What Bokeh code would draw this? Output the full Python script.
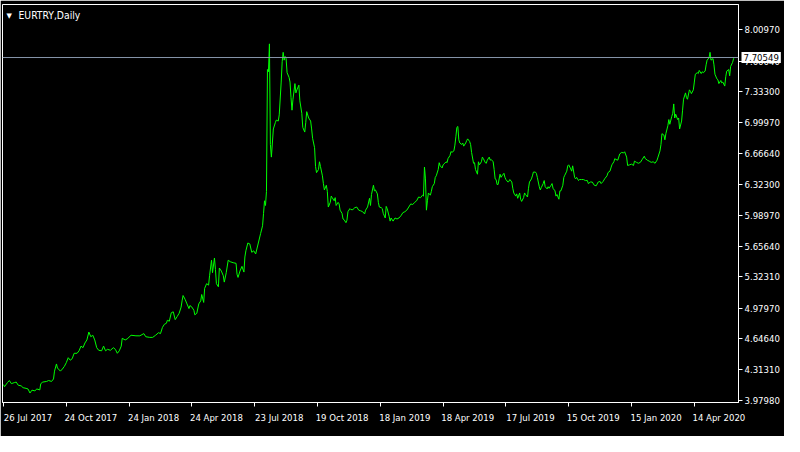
from bokeh.plotting import figure
from bokeh.models import Range1d, FixedTicker, PrintfTickFormatter, Span, Label
from bokeh.embed import file_html
from bokeh.resources import INLINE

chart_title = "EURTRY,Daily"

bar_index = [
    0, 1, 4, 6, 8, 11, 13, 15, 18, 20, 23, 25, 27, 29, 32, 34, 37, 38, 40, 44, 46, 49, 51, 52, 54, 55, 58, 60, 62, 64,
    66, 68, 70, 72, 75, 77, 79, 81, 83, 85, 87, 89, 91, 93, 95, 97, 100, 102, 104, 106, 109, 112, 114, 116, 118, 120, 121, 124, 126,
    130, 135, 139, 143, 145, 149, 152, 155, 158, 160, 162, 164, 166, 167, 169, 171, 173, 175, 177, 179, 181, 182, 183, 185, 187,
    189, 190, 192, 194, 195, 197, 199, 201, 202, 204, 205, 207, 209, 210, 212, 213, 215, 216, 217, 219, 220, 222, 224, 225, 227,
    229, 231, 234, 237, 238, 239, 241, 243, 245, 246, 247, 249, 251, 253, 255, 257,
    262, 264, 265, 266, 267, 268, 269, 270, 271, 272, 273, 275, 277, 278, 280, 281, 283, 284, 285, 286, 287, 288, 289, 291, 292,
    293, 294, 295, 297, 298, 299, 301, 302, 304, 305, 307, 308, 309, 311, 313, 314, 315, 317, 318, 319, 321, 322, 323, 325, 326,
    327, 329, 330, 331, 333, 334, 335, 337, 338, 339, 341, 342, 343, 345, 346, 347, 349, 350, 351, 353, 354, 356, 358, 360, 362,
    364, 366, 368, 369, 371, 373, 374, 375,
    377, 378, 379, 381, 382, 383, 385, 386, 387, 389, 390, 391, 393, 394, 395, 397, 399, 401, 403, 405, 407, 409, 411, 413, 415,
    417, 419, 421, 423, 425, 427, 428, 429, 430, 431, 432, 433, 435, 436, 437, 439, 440, 441, 443, 444, 445, 447, 448, 449, 451,
    452, 453, 455, 456, 457, 459, 460, 461, 462, 463, 464, 465, 467, 468, 469, 471, 472, 473, 475, 476, 477, 479, 480, 481, 483,
    484, 485, 487, 488, 489, 491, 492, 493, 495, 496, 497, 499, 500, 501, 502,
    503, 504, 506, 507, 508, 510, 511, 512, 514, 515, 516, 518, 519, 520, 522, 523, 524, 526, 527, 528, 530, 531, 532, 534, 535,
    536, 538, 539, 540, 542, 543, 544, 546, 547, 548, 550, 551, 552, 554, 555, 556, 558, 559, 560, 562, 563, 564, 566, 567, 568,
    570, 571, 572, 574, 575, 576, 578, 579, 580, 582, 583, 584, 586, 587, 589, 591, 593, 595, 596, 598, 600, 602, 604, 606, 608,
    609, 611, 613, 615, 616, 618, 619, 620, 622, 623, 624, 626,
    628, 630, 632, 633, 635, 636, 638, 640, 642, 643, 645, 647, 649, 651, 653, 654, 656, 658, 660, 662, 664, 666, 667, 669, 670,
    671, 673, 674, 675, 677, 678, 679, 681, 682, 683, 684, 685, 687, 688, 689, 691, 692, 693, 695, 696, 697, 699, 700, 701, 703,
    704, 705, 707, 708, 709, 711, 712, 713, 715, 716, 717, 719, 720, 721, 723, 724, 725, 727, 728, 729, 731, 732, 733, 735, 736,
    737, 739, 740, 741, 743, 744, 745,
]

close = [
    4.150, 4.126, 4.171, 4.194, 4.160, 4.171, 4.177, 4.143, 4.136, 4.116, 4.109, 4.102, 4.058, 4.089, 4.082, 4.102, 4.092, 4.160, 4.177, 4.184, 4.194, 4.184, 4.211, 4.296, 4.374, 4.330, 4.296, 4.319, 4.347, 4.388,
    4.442, 4.415, 4.431, 4.490, 4.490, 4.517, 4.568, 4.551, 4.602, 4.635, 4.721, 4.670, 4.686, 4.635, 4.551, 4.523, 4.517, 4.568, 4.517, 4.533, 4.523, 4.551, 4.533, 4.490, 4.517, 4.568, 4.653, 4.635, 4.646,
    4.686, 4.680, 4.680, 4.704, 4.670, 4.663, 4.663, 4.686, 4.714, 4.704, 4.772, 4.806, 4.816, 4.849, 4.839, 4.931, 4.941, 4.856, 4.890, 4.925, 4.992, 5.060, 5.118, 5.078, 5.027,
    4.976, 5.009, 4.992, 4.958, 4.908, 4.925, 5.027, 5.060, 5.129, 5.043, 5.196, 5.247, 5.231, 5.333, 5.502, 5.366, 5.526, 5.400, 5.247, 5.213, 5.417, 5.384, 5.333, 5.264, 5.366,
    5.502, 5.486, 5.475, 5.468, 5.349, 5.315, 5.384, 5.435, 5.373, 5.537, 5.604, 5.689, 5.679, 5.588, 5.604, 5.570,
    5.791, 5.876, 6.011, 6.148, 6.097, 6.250, 7.575, 7.551, 7.854, 6.760, 6.623, 6.929, 6.997, 7.025, 7.015, 7.082, 7.439, 7.660, 7.762, 7.677, 7.718, 7.694, 7.541, 7.490, 7.439,
    7.269, 7.133, 7.252, 7.422, 7.321, 7.354, 7.405, 7.235, 7.099, 6.946, 6.895, 6.997, 7.117, 7.048, 7.015, 6.929, 6.827, 6.725, 6.521, 6.454, 6.488, 6.572, 6.521, 6.419, 6.335,
    6.266, 6.317, 6.250, 6.080, 6.131, 6.199, 6.182, 6.148, 6.182, 6.097, 6.131, 6.114, 6.046, 6.011, 5.950, 5.944, 5.910, 5.937, 6.029, 6.063, 6.052, 6.052, 6.073, 6.080, 6.046,
    6.039, 6.029, 6.005, 6.046, 6.080, 6.175, 6.097, 6.216,
    6.317, 6.256, 6.266, 6.223, 6.131, 6.080, 6.073, 6.063, 6.011, 5.961, 6.087, 6.063, 5.978, 5.927, 5.961, 5.927, 5.961, 5.950, 5.961, 5.985, 6.019, 6.029, 6.046, 6.080, 6.114,
    6.107, 6.131, 6.148, 6.189, 6.182, 6.209, 6.199, 6.515, 6.386, 6.046, 6.148, 6.233, 6.209, 6.250, 6.301, 6.335, 6.403, 6.419, 6.488, 6.562, 6.528, 6.505, 6.539, 6.549, 6.572,
    6.562, 6.607, 6.640, 6.684, 6.674, 6.691, 6.753, 6.844, 6.946, 6.956, 6.811, 6.776, 6.760, 6.776, 6.742, 6.776, 6.801, 6.821, 6.793, 6.760, 6.674, 6.556, 6.562, 6.488, 6.437,
    6.572, 6.539, 6.572, 6.623, 6.607, 6.562, 6.556, 6.590, 6.623, 6.590, 6.597, 6.572, 6.488, 6.386, 6.379,
    6.325, 6.325, 6.437, 6.403, 6.419, 6.447, 6.403, 6.379, 6.352, 6.358, 6.379, 6.352, 6.284, 6.233, 6.199, 6.223, 6.175, 6.233, 6.165, 6.141, 6.182, 6.233, 6.216, 6.189, 6.284,
    6.352, 6.386, 6.419, 6.460, 6.460, 6.447, 6.403, 6.301, 6.266, 6.291, 6.335, 6.368, 6.301, 6.277, 6.301, 6.284, 6.317, 6.335, 6.284, 6.256, 6.199, 6.216, 6.165, 6.256, 6.256,
    6.317, 6.403, 6.426, 6.470, 6.528, 6.539, 6.495, 6.470, 6.528, 6.403, 6.386, 6.403, 6.368, 6.379, 6.379, 6.379, 6.368, 6.368, 6.335, 6.352, 6.352, 6.317, 6.311, 6.352, 6.358,
    6.335, 6.358, 6.393, 6.419, 6.454, 6.470, 6.505, 6.539, 6.572, 6.607, 6.597, 6.590,
    6.658, 6.674, 6.668, 6.681, 6.623, 6.532, 6.539, 6.546, 6.532, 6.579, 6.566, 6.556, 6.566, 6.600, 6.633, 6.607, 6.590, 6.579, 6.566, 6.572, 6.556, 6.590, 6.623, 6.691, 6.760,
    6.878, 6.862, 6.811, 6.878, 6.964, 7.031, 6.980, 7.066, 7.099, 7.201, 7.048, 7.089, 7.031, 7.048, 6.929, 7.015, 7.133, 7.252, 7.321, 7.269, 7.252, 7.354, 7.337, 7.313, 7.354,
    7.439, 7.524, 7.541, 7.531, 7.565, 7.531, 7.551, 7.541, 7.558, 7.626, 7.677, 7.701, 7.762, 7.677, 7.694, 7.626, 7.524, 7.473, 7.463, 7.422, 7.456, 7.429, 7.439, 7.395, 7.497,
    7.558, 7.575, 7.507, 7.609, 7.653, 7.694, 7.70549,
]

last_price = 7.70549

x_tick_bars = [0, 64, 128, 192, 256, 320, 384, 448, 512, 576, 640, 704]
x_tick_labels = ["26 Jul 2017", "24 Oct 2017", "24 Jan 2018", "24 Apr 2018", "23 Jul 2018", "19 Oct 2018",
                 "18 Jan 2019", "18 Apr 2019", "17 Jul 2019", "15 Oct 2019", "15 Jan 2020", "14 Apr 2020"]
y_ticks = [3.9798, 4.3131, 4.6464, 4.9797, 5.3231, 5.6564, 5.9897, 6.3230, 6.6664, 6.9997, 7.3330, 7.6664, 8.0097]

FONT = "DejaVu Sans Condensed"
FSIZE = "9.5px"
LABEL_SHIFT = 25  # half a date label width, in bars, so each text starts at its tick mark

p = figure(width=784, height=436, output_backend="svg", toolbar_location=None,
           x_range=Range1d(-1, 749), y_range=Range1d(3.955, 8.282),
           y_axis_location="right",
           min_border_left=2, min_border_right=46, min_border_top=4, min_border_bottom=22)

p.background_fill_color = "black"
p.border_fill_color = "black"
p.outline_line_color = "white"
p.outline_line_width = 1
p.xgrid.visible = False
p.ygrid.visible = False

p.line(bar_index, close, line_color="#00ff00", line_width=1)

p.add_layout(Span(location=last_price, dimension="width", line_color="#8796aa", line_width=1))

for ax in (p.xaxis[0], p.yaxis[0]):
    ax.axis_line_color = "white"
    ax.major_tick_line_color = "white"
    ax.minor_tick_line_color = None
    ax.major_tick_in = 0
    ax.major_tick_out = 4
    ax.major_label_text_color = "white"
    ax.major_label_text_font = FONT
    ax.major_label_text_font_size = FSIZE
    ax.major_label_standoff = 2

# x axis: tick marks at the dates (minor ticks), texts starting at each mark (major ticks)
xa = p.xaxis[0]
xa.ticker = FixedTicker(ticks=[b + LABEL_SHIFT for b in x_tick_bars], minor_ticks=x_tick_bars)
xa.major_label_overrides = {b + LABEL_SHIFT: s for b, s in zip(x_tick_bars, x_tick_labels)}
xa.major_tick_line_color = None
xa.major_tick_out = 0
xa.minor_tick_line_color = "white"
xa.minor_tick_in = 0
xa.minor_tick_out = 4
xa.major_label_standoff = 5

p.yaxis.ticker = FixedTicker(ticks=y_ticks)
p.yaxis.formatter = PrintfTickFormatter(format="%.5f")

# price tag on the right scale (placed in a side panel so it is not clipped to the frame)
price_label = Label(x=749, y=last_price, x_offset=3, text="%.5f" % last_price,
                    text_baseline="middle", text_align="left", text_color="black",
                    text_font=FONT, text_font_size=FSIZE,
                    background_fill_color="white", padding=2)
p.add_layout(price_label, "below")

p.add_layout(Label(x=-1, y=8.282, x_offset=16, y_offset=-4, text=chart_title,
                   text_baseline="top", text_align="left", text_color="white",
                   text_font=FONT, text_font_size="10.3px"))
p.add_layout(Label(x=-1, y=8.282, x_offset=4, y_offset=-7, text="\u25BC",
                   text_baseline="top", text_align="left", text_color="white",
                   text_font="DejaVu Sans", text_font_size="7px"))

open("out.html", "w").write(file_html(p, INLINE))
